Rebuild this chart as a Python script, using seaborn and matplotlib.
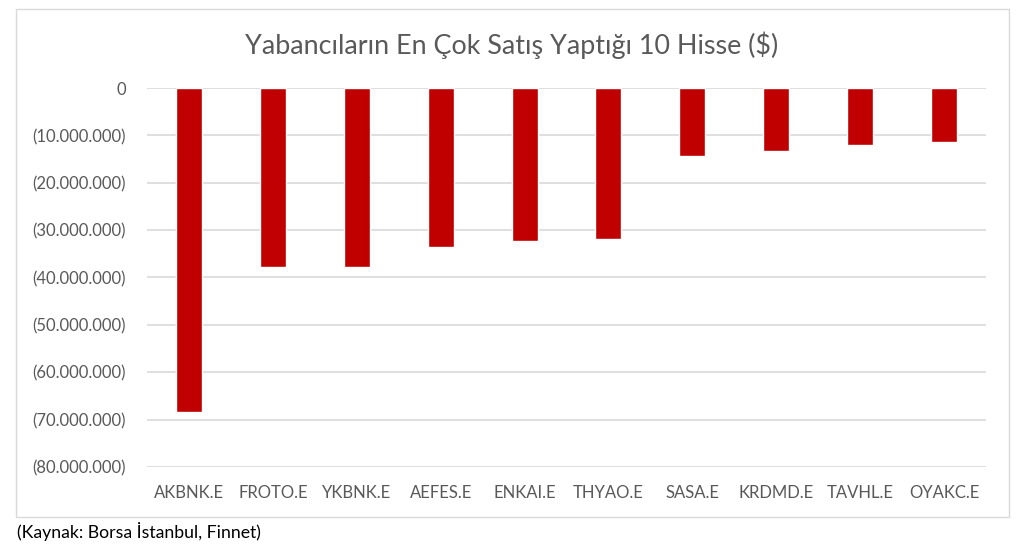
import matplotlib
matplotlib.use("Agg")
import matplotlib.pyplot as plt
import matplotlib.patches as mpatches
from matplotlib.ticker import FuncFormatter
import seaborn as sns
import pandas as pd

# Hisseler ve net satis (USD)
stocks = ["AKBNK.E", "FROTO.E", "YKBNK.E", "AEFES.E", "ENKAI.E",
          "THYAO.E", "SASA.E", "KRDMD.E", "TAVHL.E", "OYAKC.E"]
net_sales = [-68400000, -37800000, -37700000, -33600000, -32300000,
             -31800000, -14300000, -13200000, -12100000, -11400000]

df = pd.DataFrame({"Hisse": stocks, "Tutar": net_sales})

sns.set_style("white")
plt.rcParams["font.family"] = ["Lato", "DejaVu Sans"]

fig = plt.figure(figsize=(10.24, 5.49), dpi=100)
ax = fig.add_axes([0.1436, 0.1494, 0.8193, 0.6903])

sns.barplot(data=df, x="Hisse", y="Tutar", color="#c00000", width=0.31,
            saturation=1, ax=ax, zorder=3)

ax.set_ylim(-80000000, 0)
ax.set_yticks(range(-80000000, 1, 10000000))


def fmt(v, pos):
    if v == 0:
        return "0"
    s = f"{abs(int(v)):,}".replace(",", ".")
    return f"({s})" if v < 0 else s


ax.yaxis.set_major_formatter(FuncFormatter(fmt))
ax.grid(axis="y", color="#d9d9d9", linewidth=1.2, zorder=0)
for sp in ax.spines.values():
    sp.set_visible(False)
ax.tick_params(axis="both", length=0, colors="#595959", labelsize=12)
ax.tick_params(axis="y", pad=15)
ax.tick_params(axis="x", pad=13)
ax.set_xlabel("")
ax.set_ylabel("")

fig.text(0.5, 0.917, "Yabancıların En Çok Satış Yaptığı 10 Hisse ($)",
         ha="center", va="center", fontsize=19.4, color="#595959")
fig.text(0.0166, 0.031, "(Kaynak: Borsa İstanbul, Finnet)",
         ha="left", va="center", fontsize=12.7, color="#000000")

# cerceve
fig.patches.append(mpatches.Rectangle((0.0156, 0.0583), 0.9697, 0.9253,
                                      transform=fig.transFigure, fill=False,
                                      edgecolor="#d9d9d9", linewidth=1))

fig.savefig("out.png", dpi=100)
